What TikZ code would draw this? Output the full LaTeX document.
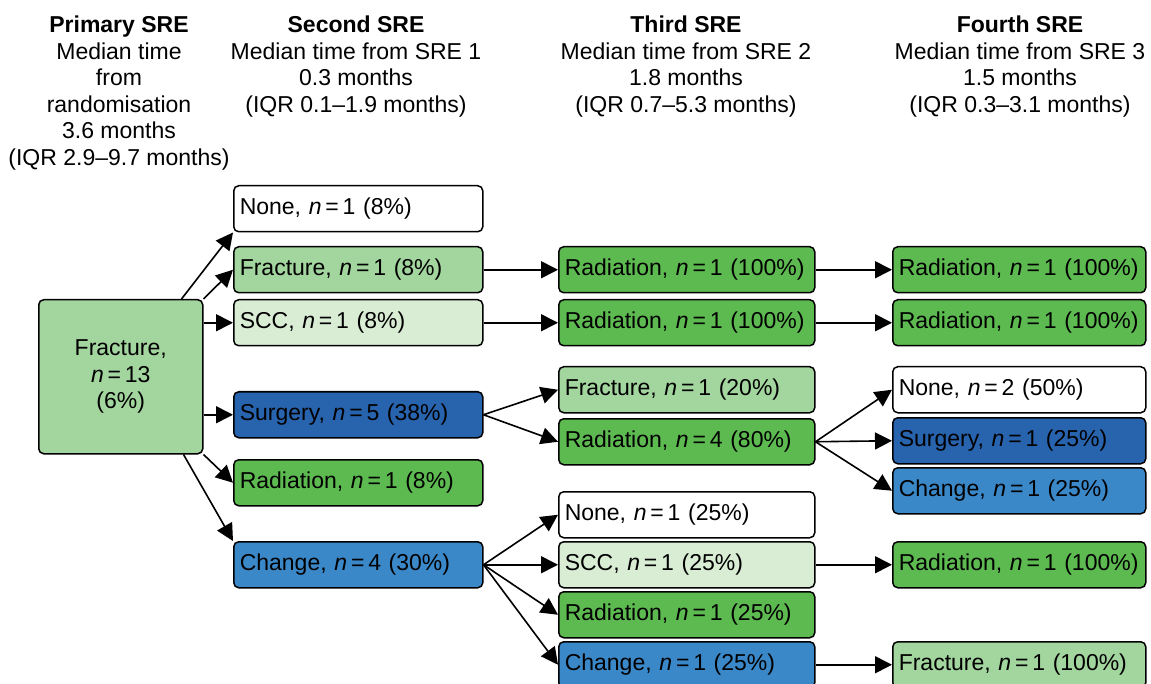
\documentclass[tikz,border=0pt]{standalone}
\usepackage{fontspec}
\setmainfont{Liberation Sans}
\usetikzlibrary{arrows.meta,positioning,calc}

\definecolor{fracgreen}{HTML}{A3D59E}
\definecolor{sccgreen}{HTML}{D9EDD5}
\definecolor{radgreen}{HTML}{5DBA50}
\definecolor{surgblue}{HTML}{2863AE}
\definecolor{chgblue}{HTML}{3B88C9}

\newcommand{\ncount}[1]{\textit{n}\,=\,#1}

\begin{document}
\begin{tikzpicture}[x=1pt, y=-1pt, >={Triangle[length=17pt,width=17pt]},
    every node/.style={font=\fontsize{23}{26.5}\selectfont},
    event/.style={draw, rectangle, rounded corners=5pt, line width=1.5pt, anchor=north west, minimum height=46pt, inner xsep=6pt, inner ysep=0pt, align=left},
    col2/.style={event, text width=237pt},
    col3/.style={event, text width=244pt},
    col4/.style={event, text width=241pt},
    head/.style={anchor=north, align=center, inner sep=0pt},
    link/.style={->, line width=1.6pt}]
        \useasboundingbox (0,0) rectangle (1151,684);
        \clip (0,0) rectangle (1151,684);

        % Headers
        \node (h1) [head] at (119,16) {\textbf{Primary SRE}\\ Median time\\ from\\ randomisation\\ 3.6 months\\ (IQR 2.9--9.7 months)};
        \node (h2) [head] at (356,16) {\textbf{Second SRE}\\ Median time from SRE 1\\ 0.3 months\\ (IQR 0.1--1.9 months)};
        \node (h3) [head] at (686,16) {\textbf{Third SRE}\\ Median time from SRE 2\\ 1.8 months\\ (IQR 0.7--5.3 months)};
        \node (h4) [head] at (1020,16) {\textbf{Fourth SRE}\\ Median time from SRE 3\\ 1.5 months\\ (IQR 0.3--3.1 months)};

        % Primary SRE
        \node (frac0) [event, align=center, minimum width=164pt, minimum height=154pt, fill=fracgreen] at (38,299) {Fracture,\\ \ncount{13}\\ (6\%)};

        % Second SRE
        \node (none2) [col2, fill=white] at (233,185) {None, \ncount{1} (8\%)};
        \node (frac2) [col2, fill=fracgreen] at (233,246) {Fracture, \ncount{1} (8\%)};
        \node (scc2) [col2, fill=sccgreen] at (233,299) {SCC, \ncount{1} (8\%)};
        \node (surg2) [col2, fill=surgblue] at (233,391) {Surgery, \ncount{5} (38\%)};
        \node (rad2) [col2, fill=radgreen] at (233,459) {Radiation, \ncount{1} (8\%)};
        \node (chg2) [col2, fill=chgblue] at (233,541) {Change, \ncount{4} (30\%)};

        % Third SRE
        \node (rad3a) [col3, fill=radgreen] at (558,246) {Radiation, \ncount{1} (100\%)};
        \node (rad3b) [col3, fill=radgreen] at (558,299) {Radiation, \ncount{1} (100\%)};
        \node (frac3) [col3, fill=fracgreen] at (558,366) {Fracture, \ncount{1} (20\%)};
        \node (rad3c) [col3, fill=radgreen] at (558,418) {Radiation, \ncount{4} (80\%)};
        \node (none3) [col3, fill=white] at (558,491) {None, \ncount{1} (25\%)};
        \node (scc3) [col3, fill=sccgreen] at (558,541) {SCC, \ncount{1} (25\%)};
        \node (rad3d) [col3, fill=radgreen] at (558,591) {Radiation, \ncount{1} (25\%)};
        \node (chg3) [col3, fill=chgblue] at (558,641) {Change, \ncount{1} (25\%)};

        % Fourth SRE
        \node (rad4a) [col4, fill=radgreen] at (892,246) {Radiation, \ncount{1} (100\%)};
        \node (rad4b) [col4, fill=radgreen] at (892,299) {Radiation, \ncount{1} (100\%)};
        \node (none4) [col4, fill=white] at (892,366) {None, \ncount{2} (50\%)};
        \node (surg4) [col4, fill=surgblue] at (892,417) {Surgery, \ncount{1} (25\%)};
        \node (chg4) [col4, fill=chgblue] at (892,467) {Change, \ncount{1} (25\%)};
        \node (rad4c) [col4, fill=radgreen] at (892,541) {Radiation, \ncount{1} (100\%)};
        \node (frac4) [col4, fill=fracgreen] at (892,641) {Fracture, \ncount{1} (100\%)};

        % Arrows from primary SRE
        \draw[link] ([xshift=-22pt]frac0.north east) -- (none2.south west);
        \draw[link] (frac0.north east) -- (frac2.west);
        \draw[link] (frac0.east |- scc2.west) -- (scc2.west);
        \draw[link] (frac0.east |- surg2.west) -- (surg2.west);
        \draw[link] (frac0.south east) -- (rad2.west);
        \draw[link] ([xshift=-20pt]frac0.south east) -- (chg2.north west);

        % Arrows to third SRE
        \draw[link] (frac2.east) -- (rad3a.west);
        \draw[link] (scc2.east) -- (rad3b.west);
        \foreach \t in {frac3,rad3c}
            \draw[link] (surg2.east) -- (\t.west);
        \foreach \t in {none3,scc3,rad3d,chg3}
            \draw[link] (chg2.east) -- (\t.west);

        % Arrows to fourth SRE
        \draw[link] (rad3a.east) -- (rad4a.west);
        \draw[link] (rad3b.east) -- (rad4b.west);
        \foreach \t in {none4,surg4,chg4}
            \draw[link] (rad3c.east) -- (\t.west);
        \draw[link] (scc3.east) -- (rad4c.west);
        \draw[link] (chg3.east) -- (frac4.west);
    \end{tikzpicture}
\end{document}
